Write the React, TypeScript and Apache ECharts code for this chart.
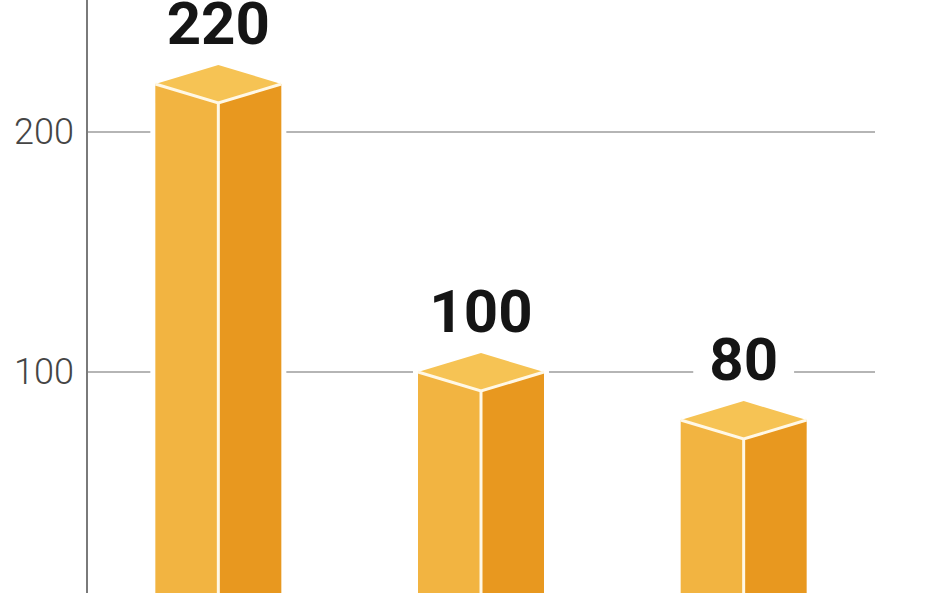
import React, { useEffect, useRef } from "react";
import * as echarts from "echarts";

const categories = ["A", "B", "C"];
const values = [220, 100, 80];
const yTicks = { min: 0, max: 300, interval: 100 };

export default function App() {
  const ref = useRef<HTMLDivElement>(null);
  useEffect(() => {
    if (!ref.current) return;
    const chart = echarts.init(ref.current, undefined, { renderer: "svg" });
    const hw = 63;
    const dy = 19;
    chart.setOption({
      animation: false,
      backgroundColor: "#ffffff",
      grid: {
        left: 87,
        right: 73,
        top: 0,
        bottom: 0,
        containLabel: false,
        outerBoundsMode: "none",
      },
      xAxis: {
        type: "category",
        data: categories,
        boundaryGap: true,
        axisLine: { show: false },
        axisTick: { show: false },
        axisLabel: { show: false },
      },
      yAxis: {
        type: "value",
        min: yTicks.min,
        max: yTicks.max,
        interval: yTicks.interval,
        axisLine: { show: true, lineStyle: { color: "#7a7a7a", width: 2 } },
        axisTick: { show: false },
        splitLine: { show: true, lineStyle: { color: "#b5b5b5", width: 2 } },
        axisLabel: {
          color: "#454545",
          fontSize: 36,
          fontWeight: 300,
          fontFamily: "Roboto",
          margin: 13,
          showMaxLabel: false,
        },
      },
      series: [
        {
          type: "custom",
          data: values.map((v, i) => [i, v]),
          renderItem: (params: any, api: any) => {
            const top = api.coord([api.value(0), api.value(1)]);
            const base = api.coord([api.value(0), 0]);
            const cx = top[0];
            const ty = top[1];
            const by = base[1];
            return {
              type: "group",
              children: [
                {
                  type: "polygon",
                  shape: {
                    points: [
                      [cx - hw, by],
                      [cx - hw, ty],
                      [cx, ty - dy],
                      [cx + hw, ty],
                      [cx + hw, by],
                    ],
                  },
                  style: { fill: "#ffffff", stroke: "#ffffff", lineWidth: 10 },
                },
                {
                  type: "polygon",
                  shape: { points: [[cx - hw, ty], [cx, ty + dy], [cx, by], [cx - hw, by]] },
                  style: { fill: "#F2B441" },
                },
                {
                  type: "polygon",
                  shape: { points: [[cx, ty + dy], [cx + hw, ty], [cx + hw, by], [cx, by]] },
                  style: { fill: "#E8981F" },
                },
                {
                  type: "polygon",
                  shape: { points: [[cx - hw, ty], [cx, ty - dy], [cx + hw, ty], [cx, ty + dy]] },
                  style: { fill: "#F6C354" },
                },
                {
                  type: "polyline",
                  shape: { points: [[cx - hw, ty], [cx, ty + dy], [cx + hw, ty]] },
                  style: { stroke: "#FFF8E6", lineWidth: 3, fill: null },
                },
                {
                  type: "line",
                  shape: { x1: cx, y1: ty + dy, x2: cx, y2: by },
                  style: { stroke: "#FFF8E6", lineWidth: 3 },
                },
                {
                  type: "text",
                  x: cx,
                  y: ty - 61,
                  style: {
                    text: String(api.value(1)),
                    fontSize: 60,
                    lineHeight: 46,
                    fontWeight: "bold",
                    fontFamily: "Roboto",
                    fill: "#151515",
                    align: "center",
                    verticalAlign: "middle",
                    backgroundColor: "#ffffff",
                    padding: [0, 16],
                  },
                },
              ],
            };
          },
        },
      ],
    });
    return () => chart.dispose();
  }, []);
  return (
    <div
      style={{
        position: "fixed",
        left: 0,
        top: 0,
        width: 948,
        height: 593,
        overflow: "hidden",
        background: "#fff",
      }}
    >
      <div
        ref={ref}
        style={{ position: "absolute", left: 0, top: -108, width: 948, height: 720 }}
      />
    </div>
  );
}
